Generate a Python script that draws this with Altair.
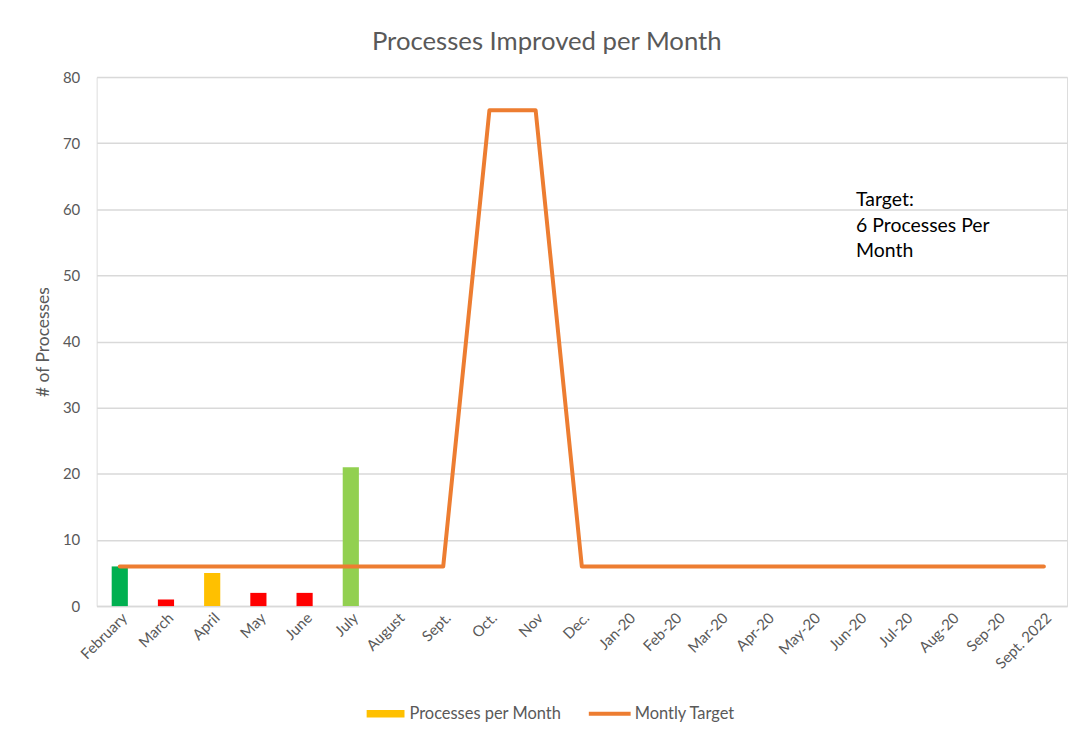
import altair as alt
import pandas as pd

months = ["February", "March", "April", "May", "June", "July", "August", "Sept.",
          "Oct.", "Nov", "Dec.", "Jan-20", "Feb-20", "Mar-20", "Apr-20", "May-20",
          "Jun-20", "Jul-20", "Aug-20", "Sep-20", "Sept. 2022"]
bar_months = ["February", "March", "April", "May", "June", "July"]
bar_values = [6, 1, 5, 2, 2, 21]
bar_colors = ["#00B050", "#FF0000", "#FFC000", "#FF0000", "#FF0000", "#92D050"]
target_values = [6, 6, 6, 6, 6, 6, 6, 6, 75, 75, 6, 6, 6, 6, 6, 6, 6, 6, 6, 6, 6]
series_names = ["Processes per Month", "Montly Target"]
series_colors = ["#FFC000", "#ED7D31"]
note_lines = ["Target:", "6 Processes Per", "Month"]

FONT = "Lato"
GREY = "#595959"

bars_df = pd.DataFrame({"month": bar_months, "value": bar_values,
                        "barcolor": bar_colors, "series": series_names[0]})
line_df = pd.DataFrame({"month": months, "value": target_values,
                        "series": series_names[1]})
note_df = pd.DataFrame({"month": ["Jun-20"], "value": [62.7], "text": [note_lines]})

x_enc = alt.X("month:N", sort=months, title=None,
              scale=alt.Scale(paddingInner=0.65, paddingOuter=0.325),
              axis=alt.Axis(labelAngle=-45, labelAlign="right", labelBaseline="top",
                            labelFontSize=15, labelColor=GREY, labelFont=FONT,
                            ticks=False, domainColor="#D9D9D9", domainWidth=1.5,
                            labelPadding=4))
y_scale = alt.Scale(domain=[0, 80])
y_axis = alt.Axis(values=list(range(0, 81, 10)), labelFontSize=15, labelColor=GREY,
                  labelFont=FONT, ticks=False, domain=False, gridColor="#D9D9D9",
                  gridWidth=1.5, labelPadding=17, title="# of Processes",
                  titleFontSize=17.5, titleFont=FONT, titleColor=GREY,
                  titleFontWeight="normal", titlePadding=10)

bar_legend = alt.Legend(
    title=None, orient="none", legendX=271, legendY=620,
    labelFontSize=16.5, labelColor=GREY, labelFont=FONT,
    symbolType="M-1,-0.2H1V0.2H-1Z", symbolSize=1444, symbolStrokeWidth=0,
    symbolOpacity=1, symbolFillColor="#FFC000", labelOffset=5)
line_legend = alt.Legend(
    title=None, orient="none", legendX=492, legendY=616,
    labelFontSize=16.5, labelColor=GREY, labelFont=FONT,
    symbolType="M-1,0H1", symbolSize=1764, symbolStrokeWidth=4,
    symbolOpacity=1, labelOffset=2)

bars = alt.Chart(bars_df).mark_bar().encode(
    x=x_enc,
    y=alt.Y("value:Q", scale=y_scale, axis=y_axis),
    fill=alt.Fill("barcolor:N", scale=None),
)
bar_key = alt.Chart(bars_df).mark_point(filled=True, opacity=0).encode(
    x=alt.X("month:N", sort=months),
    y=alt.Y("value:Q"),
    color=alt.Color("series:N", scale=alt.Scale(domain=series_names[:1], range=series_colors[:1]),
                    legend=bar_legend),
)
line = alt.Chart(line_df).mark_line(strokeWidth=4, strokeCap="round", strokeJoin="round").encode(
    x=alt.X("month:N", sort=months),
    y=alt.Y("value:Q"),
    stroke=alt.Stroke("series:N", scale=alt.Scale(domain=series_names[1:], range=series_colors[1:]),
                      legend=line_legend),
)
note = alt.Chart(note_df).mark_text(align="left", baseline="top", fontSize=19.5,
                                    font=FONT, color="#000000", lineHeight=25.5, dx=-3).encode(
    x=alt.X("month:N", sort=months),
    y=alt.Y("value:Q"),
    text="text",
)

chart = alt.layer(bars, bar_key, line, note).properties(
    width=974, height=531,
    padding={"left": 26, "top": 20, "right": 2, "bottom": 5},
    title=alt.TitleParams("Processes Improved per Month", fontSize=25.8, font=FONT,
                          color=GREY, fontWeight="normal", offset=14, frame="bounds", dx=-4),
).resolve_scale(color="independent", stroke="independent").configure_view(stroke=None).configure(background="white")

chart.save("out.html", embed_options={"renderer": "svg", "actions": False})
